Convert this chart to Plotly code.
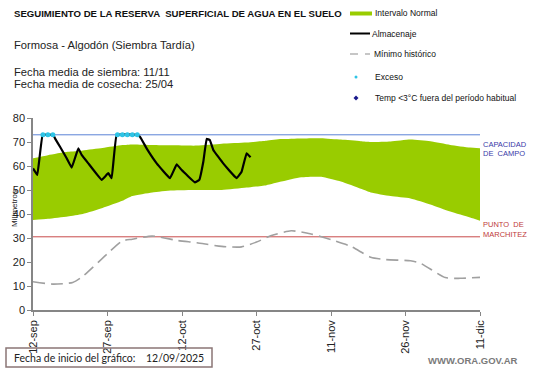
import plotly.graph_objects as go
from datetime import datetime, timedelta

START = datetime(2025, 9, 12)

# ---- data ----
band_days = [0, 3, 7, 10, 14, 18, 20, 24, 28, 33, 38, 43, 47, 50, 54, 58, 62, 66, 68, 72, 76, 80, 84, 88, 90]
band_upper = [63.2, 64.5, 65.9, 66.5, 67.5, 68.7, 69.0, 68.8, 68.6, 68.5, 69.3, 69.8, 70.5, 71.2, 71.5, 71.6, 71.0, 70.3, 70.0, 70.2, 71.0, 70.3, 68.8, 67.7, 67.4]
band_lower = [37.5, 38.0, 39.0, 40.0, 42.5, 45.5, 47.5, 49.0, 49.8, 50.0, 50.0, 51.0, 52.0, 53.5, 55.3, 55.5, 53.5, 50.5, 49.0, 47.5, 46.5, 44.0, 41.0, 38.5, 37.2]

alm_days = [0, 0.87, 1.95, 4.09, 4.43, 5.44, 6.78, 7.79, 9.12, 9.8, 11.13, 13.83, 15.16, 15.84, 16.85, 20.88,
            21.54, 23.0, 24.9, 27.58, 28.93, 29.94, 32.6, 33.48, 34.29, 34.97, 35.6, 36.3, 38.3, 41.0, 42.0, 43.0, 43.8]
alm_vals = [59.0, 56.3, 73.0, 73.0, 71.5, 68.0, 63.2, 59.3, 67.4, 64.6, 61.1, 54.2, 57.0, 54.9, 73.0, 73.0,
            72.2, 66.9, 61.1, 54.9, 60.7, 58.3, 53.2, 54.2, 61.8, 71.3, 70.8, 66.7, 61.1, 54.9, 57.6, 65.3, 63.6]

min_days = [0, 4, 8, 10, 15, 18, 20, 24, 29, 33, 38, 42, 45, 48, 52, 56, 60, 64, 68, 71, 76, 78, 83, 86, 90]
min_vals = [11.8, 10.8, 11.5, 14.0, 23.5, 28.8, 29.5, 30.8, 29.0, 28.0, 26.5, 26.3, 28.3, 31.0, 33.0, 31.7, 29.3, 26.5, 22.0, 21.0, 20.5, 19.5, 13.5, 13.2, 13.6]

exceso_days = [2, 3, 4, 17, 18, 19, 20, 21]
exceso_vals = [73, 73, 73, 73, 73, 73, 73, 73]

CC = 73.0
PMP = 30.5
tick_days = [0, 15, 30, 45, 60, 75, 90]
tick_labels = ["12-sep", "27-sep", "12-oct", "27-oct", "11-nov", "26-nov", "11-dic"]
y_ticks = [0, 10, 20, 30, 40, 50, 60, 70, 80]


def d(days):
    return [START + timedelta(days=float(x)) for x in days]


FONT = "Arial, Liberation Sans, sans-serif"
W, H = 541, 368
L, R, T, B = 33, 480, 118, 310


def px(x):
    return (x - L) / (R - L)


def py(y):
    return (B - y) / (B - T)


fig = go.Figure()

fig.add_trace(go.Scatter(x=d(band_days), y=band_lower, mode="lines", line=dict(width=0, color="#99cc00", shape="spline", smoothing=0.5),
                         showlegend=False, hoverinfo="skip"))
fig.add_trace(go.Scatter(x=d(band_days), y=band_upper, mode="lines", line=dict(width=0, color="#99cc00", shape="spline", smoothing=0.5),
                         fill="tonexty", fillcolor="#99cc00", showlegend=False, hoverinfo="skip"))

fig.add_trace(go.Scatter(x=d([0, 90]), y=[CC, CC], mode="lines", line=dict(color="#5b82d6", width=1),
                         showlegend=False))
fig.add_trace(go.Scatter(x=d([0, 90]), y=[PMP, PMP], mode="lines", line=dict(color="#c84a4a", width=1),
                         showlegend=False))

fig.add_trace(go.Scatter(x=d(min_days), y=min_vals, mode="lines", line=dict(color="#a0a0a0", width=1.6, dash="12px,6px", shape="spline", smoothing=0.6),
                         showlegend=False))

fig.add_trace(go.Scatter(x=d(alm_days), y=alm_vals, mode="lines", line=dict(color="#000000", width=2.2, shape="spline", smoothing=0.2),
                         showlegend=False))

fig.add_trace(go.Scatter(x=d(exceso_days), y=exceso_vals, mode="markers",
                         marker=dict(color="#2ec4e6", size=5), showlegend=False))

fig.update_xaxes(range=[START, START + timedelta(days=90)], tickmode="array",
                 tickvals=d(tick_days), ticktext=tick_labels, tickangle=-90,
                 showgrid=False, zeroline=False, showline=True, linecolor="#868686", linewidth=1.5,
                 ticks="outside", ticklen=4, tickcolor="#868686",
                 tickfont=dict(family=FONT, size=11, color="#222"))
fig.update_yaxes(range=[0, 80], tickvals=y_ticks, showgrid=False, zeroline=False,
                 showline=True, linecolor="#868686", linewidth=1.5,
                 ticks="outside", ticklen=4, tickcolor="#868686",
                 tickfont=dict(family=FONT, size=11, color="#222"))

ann = []
shapes = []


def text(x, y, s, size, color="#111", bold=False, xanchor="left", family=FONT):
    ann.append(dict(x=px(x), y=py(y), xref="paper", yref="paper", text=("<b>%s</b>" % s) if bold else s,
                    showarrow=False, xanchor=xanchor, yanchor="middle",
                    font=dict(family=family, size=size, color=color)))


text(12, 13, "SEGUIMIENTO DE LA RESERVA  SUPERFICIAL DE AGUA EN EL SUELO", 9.6, bold=True)
text(12, 45, "Formosa - Algodón (Siembra Tardía)", 11.2, color="#222")
text(12, 72, "Fecha media de siembra: 11/11", 11.2, color="#222")
text(12, 84.5, "Fecha media de cosecha: 25/04", 11.2, color="#222")

# legend
shapes.append(dict(type="rect", xref="paper", yref="paper", x0=px(350), x1=px(372), y0=py(11.5), y1=py(15.5),
                   fillcolor="#99cc00", line=dict(width=0)))
text(373, 13, "Intervalo Normal", 8.5)
shapes.append(dict(type="line", xref="paper", yref="paper", x0=px(350), x1=px(370), y0=py(33.5), y1=py(33.5),
                   line=dict(color="black", width=2)))
text(370, 34, "Almacenaje", 8.5)
shapes.append(dict(type="line", xref="paper", yref="paper", x0=px(350), x1=px(358), y0=py(54), y1=py(54),
                   line=dict(color="#a0a0a0", width=1.2)))
shapes.append(dict(type="line", xref="paper", yref="paper", x0=px(365), x1=px(370), y0=py(54), y1=py(54),
                   line=dict(color="#a0a0a0", width=1.2)))
text(372, 54, "Mínimo histórico", 8.5)
shapes.append(dict(type="circle", xref="paper", yref="paper", x0=px(354.5), x1=px(357.5), y0=py(75.5), y1=py(78.5),
                   fillcolor="#2ec4e6", line=dict(width=0)))
text(373, 77, "Exceso", 8.5)
shapes.append(dict(type="path", xref="paper", yref="paper",
                   path="M %f,%f L %f,%f L %f,%f L %f,%f Z" % (px(356), py(95.5), px(358.5), py(98), px(356), py(100.5), px(353.5), py(98)),
                   fillcolor="#1a1a8c", line=dict(width=0)))
text(373, 98, "Temp &lt;3°C fuera del período habitual", 8.5)

# right annotations
text(481, 144, "CAPACIDAD", 7.5, color="#3a3aa8")
text(481, 153, "DE  CAMPO", 7.5, color="#3a3aa8")
text(481, 224, "PUNTO  DE", 7.5, color="#c03a3a")
text(481, 234, "MARCHITEZ", 7.5, color="#c03a3a")

# y title
ann.append(dict(x=px(7.5), y=py(209), xref="paper", yref="paper", text="Milímetros", showarrow=False,
                textangle=-90, font=dict(family=FONT, size=8, color="#222")))

# bottom box
shapes.append(dict(type="rect", xref="paper", yref="paper", x0=px(6), x1=px(212), y0=py(348), y1=py(367),
                   line=dict(color="#8a7676", width=1.5), fillcolor="rgba(0,0,0,0)"))
text(12, 358, "Fecha de inicio del gráfico:", 10.5, color="#222", family="Lato, Open Sans, sans-serif")
text(144, 358, "12/09/2025", 10.5, color="#222", family="Lato, Open Sans, sans-serif")
text(520, 360, "WWW.ORA.GOV.AR", 9.5, color="#7a7a7a", bold=True, xanchor="right")

fig.update_layout(width=W, height=H, margin=dict(l=L, r=W - R, t=T, b=H - B, autoexpand=False),
                  paper_bgcolor="white", plot_bgcolor="white", annotations=ann, shapes=shapes,
                  showlegend=False)

fig.write_html("out.html", config={"displayModeBar": False},
               post_script="document.body.style.margin='0px';document.body.style.overflow='hidden';")
